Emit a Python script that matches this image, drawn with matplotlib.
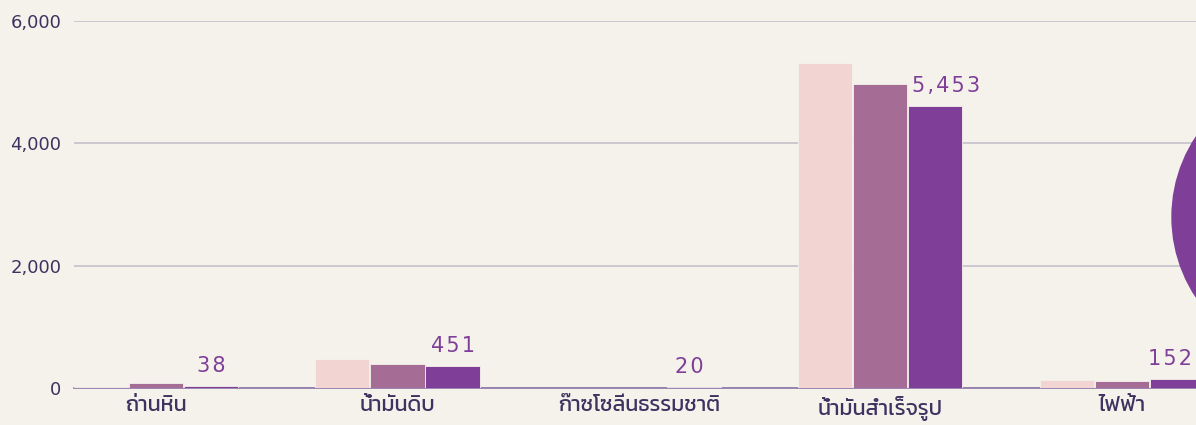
import matplotlib
matplotlib.use("Agg")
import numpy as np
import matplotlib.pyplot as plt
from matplotlib.patches import Circle

# Data
categories = ["ถ่านหิน", "น้ำมันดิบ", "ก๊าซโซลีนธรรมชาติ", "น้ำมันสำเร็จรูป", "ไฟฟ้า"]
series_a = [12, 474, 8, 5313, 130]
series_b = [80, 392, 4, 4970, 115]
series_c = [38, 360, 20, 4612, 150]
value_labels = ["38", "451", "20", "5,453", "152"]
yticks = [0, 2000, 4000, 6000]
ytick_labels = ["0", "2,000", "4,000", "6,000"]

BG = "#f5f2ec"
C_LIGHT = "#f2d5d2"
C_MID = "#a56c95"
C_DARK = "#7f3f98"
TEXT = "#3d3360"

plt.rcParams["font.family"] = ["DejaVu Sans"]

fig = plt.figure(figsize=(11.96, 4.25), dpi=100, facecolor=BG)
ax = fig.add_axes([74 / 1196, 37 / 425, 1 - 74 / 1196, 367 / 425])
ax.set_facecolor(BG)

x = np.arange(len(categories))
w = 0.224
step = 0.228
for off, vals, col in [(-step, series_a, C_LIGHT), (0, series_b, C_MID), (step, series_c, C_DARK)]:
    ax.bar(x + off, vals, width=w, color=col, edgecolor=BG, linewidth=0.6, zorder=3)

# value labels over the darkest bar, slightly letter-spaced
nudge = [0, 0, -3, 8, -5]
for xi, v, lab, dx in zip(x, series_c, value_labels, nudge):
    ax.annotate("\u200a".join(lab), (xi + step, v), xytext=(dx, 7), textcoords="offset points",
                ha="center", va="bottom", fontsize=15, color=C_DARK, zorder=4)

ax.set_xlim(-0.34, 4.308)
ax.set_ylim(0, 6000)
ax.set_yticks(yticks)
ax.set_yticklabels(ytick_labels)
ax.set_xticks(x)
ax.set_xticklabels(categories, family=["Kanit", "DejaVu Sans"], fontweight=400)
ax.tick_params(axis="y", length=0, pad=9, labelsize=13, labelcolor=TEXT)
ax.tick_params(axis="x", length=0, pad=6, labelsize=15.5, labelcolor=TEXT)
ax.grid(axis="y", color="#c9c4cc", linewidth=1.3, zorder=0)
for s in ["top", "right", "left"]:
    ax.spines[s].set_visible(False)
ax.spines["bottom"].set_color("#8a74a8")
ax.spines["bottom"].set_linewidth(1.2)
ax.spines["bottom"].set_zorder(2)

# decorative circle cut off at the right edge
circ = Circle((1317, 425 - 217), 145, transform=None, color=C_DARK, zorder=10)
fig.patches.append(circ)

fig.savefig("out.png", dpi=100, facecolor=BG)
